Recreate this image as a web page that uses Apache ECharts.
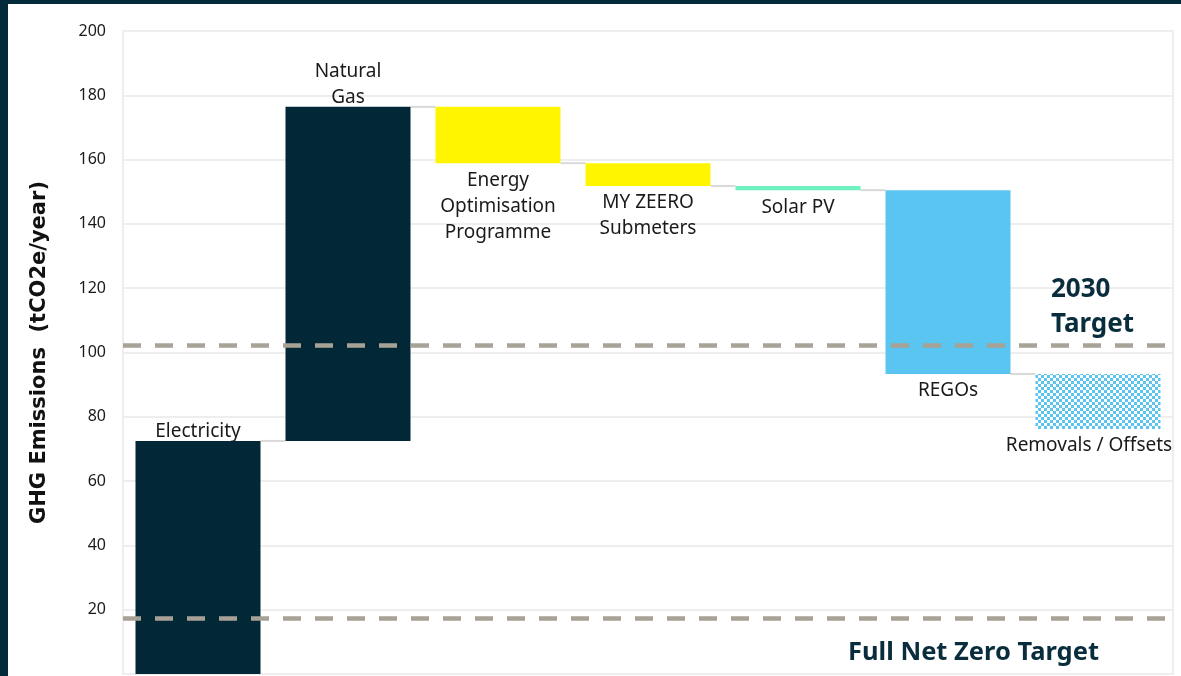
<!DOCTYPE html>
<html>
<head>
<meta charset="utf-8">
<script src="https://cdn.jsdelivr.net/npm/echarts@6/dist/echarts.min.js"></script>
<style>
  html, body { margin:0; padding:0; background:#032a3a; width:1181px; height:676px; overflow:hidden; }
  #panel { position:absolute; left:8px; top:4px; width:1173px; height:672px; background:#ffffff; }
  #chart { position:absolute; left:0; top:0; width:1181px; height:676px; }
</style>
</head>
<body>
<div id="panel"></div>
<div id="chart"></div>
<script>
// ---- data ----
const categories = ['Electricity', 'Natural\nGas', 'Energy\nOptimisation\nProgramme', 'MY ZEERO\nSubmeters', 'Solar PV', 'REGOs', 'Removals / Offsets'];
const changes = [72.5, 103.9, -17.5, -7.1, -1.3, -57.2, -17.1];
const labelAbove = [true, true, false, false, false, false, false];
const target2030 = 102.3;
const targetNetZero = 17.4;
const yMin = 0, yMax = 200, yStep = 20;
const axisName = 'GHG Emissions  (tCO2e/year)';

// ---- styling ----
const NAVY = '#022838';
const YELLOW = '#FFF500';
const MINT = '#6EF2C0';
const BLUE = '#5BC5F2';
const labelShift = [0, 0, 0, 0, 0, 0, -9];

function checker() {
  const c = document.createElement('canvas');
  c.width = 6; c.height = 6;
  const g = c.getContext('2d');
  g.fillStyle = '#ffffff'; g.fillRect(0, 0, 6, 6);
  g.fillStyle = BLUE; g.fillRect(0, 0, 3, 3); g.fillRect(3, 3, 3, 3);
  return c;
}
const barColors = [NAVY, NAVY, YELLOW, YELLOW, MINT, BLUE, { image: checker(), repeat: 'repeat' }];

// waterfall geometry from the values
const bases = [], heights = [], levels = [];
let cum = 0;
changes.forEach((v, i) => {
  const next = cum + v;
  bases.push(Math.min(cum, next));
  heights.push(Math.abs(v));
  cum = next;
  levels.push(cum);
});
const connectors = levels.slice(0, levels.length - 1).map((lv, i) => [i, lv]);

const FONT = '"Noto Sans", sans-serif';
const BAR_W = 125;

const chart = echarts.init(document.getElementById('chart'), null, { renderer: 'canvas' });
chart.setOption({
  animation: false,
  backgroundColor: 'transparent',
  grid: { left: 123, right: 8, top: 31, bottom: 2, show: true, borderColor: '#eeeeee', borderWidth: 2, containLabel: false },
  xAxis: {
    type: 'category', data: categories,
    axisLine: { show: false }, axisTick: { show: false }, axisLabel: { show: false }, splitLine: { show: false }
  },
  yAxis: {
    type: 'value', min: yMin, max: yMax, interval: yStep,
    name: axisName, nameLocation: 'middle', nameGap: 73, nameRotate: 90,
    nameTextStyle: { fontSize: 21, fontWeight: 'bold', color: '#111', fontFamily: '"DejaVu Sans", sans-serif' },
    axisLine: { show: false }, axisTick: { show: false },
    axisLabel: { fontSize: 16, color: '#1a1a1a', margin: 17, fontFamily: '"Noto Sans", sans-serif', showMinLabel: false },
    splitLine: { lineStyle: { color: '#eeeeee', width: 2 } }
  },
  series: [
    {
      type: 'bar', stack: 'wf', barWidth: BAR_W, silent: true,
      itemStyle: { color: 'transparent' },
      data: bases
    },
    {
      type: 'bar', stack: 'wf', barWidth: BAR_W,
      data: heights.map((h, i) => ({
        value: h,
        itemStyle: { color: barColors[i] },
        label: {
          show: true,
          position: labelAbove[i] ? 'top' : 'bottom',
          distance: labelAbove[i] ? -4 : 4,
          offset: [labelShift[i], 0],
          formatter: categories[i],
          fontSize: 19, lineHeight: 26, color: '#1a1a1a', fontFamily: FONT, align: 'center'
        }
      })),
      markLine: {
        silent: true, symbol: 'none',
        lineStyle: { color: '#a8a196', width: 4.5, type: [18, 14] },
        label: { show: false },
        data: [{ yAxis: target2030 }, { yAxis: targetNetZero }]
      }
    },
    {
      type: 'custom', silent: true,
      data: connectors,
      renderItem: function (params, api) {
        const p = api.coord([api.value(0), api.value(1)]);
        const band = api.size([1, 0])[0];
        return {
          type: 'line',
          shape: { x1: p[0] + BAR_W / 2, y1: p[1], x2: p[0] + band - BAR_W / 2, y2: p[1] },
          style: { stroke: '#d9d9d9', lineWidth: 2 }
        };
      }
    }
  ],
  graphic: [
    { type: 'text', z: 100, left: 1051, top: 272, style: { text: '2030\nTarget', fill: '#0a2d3d', font: 'bold 26px "Noto Sans", sans-serif', lineHeight: 35, textAlign: 'left' } },
    { type: 'text', z: 100, left: 848, top: 640, style: { text: 'Full Net Zero Target', fill: '#0a2d3d', font: 'bold 25.5px "Noto Sans", sans-serif' } }
  ]
});
</script>
</body>
</html>
